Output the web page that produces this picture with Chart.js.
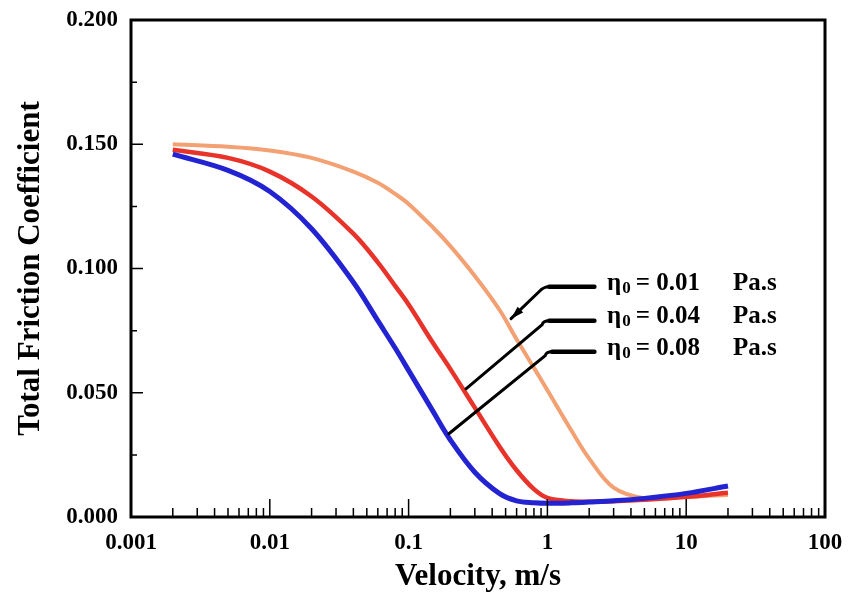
<!DOCTYPE html>
<html>
<head>
<meta charset="utf-8">
<script src="https://cdn.jsdelivr.net/npm/chart.js@4.4.1/dist/chart.umd.min.js"></script>
<style>
  html, body { margin: 0; padding: 0; background: #fff; }
  canvas { display: block; }
</style>
</head>
<body>
<canvas id="chart" width="848" height="604"></canvas>
<script>
const velocity = [0.002, 0.005, 0.01, 0.02, 0.04, 0.06, 0.08, 0.1, 0.15, 0.2, 0.3, 0.45, 0.6, 0.8, 1, 1.5, 2, 3, 5, 10, 20];
const friction001 = [0.1500, 0.1490, 0.1475, 0.1445, 0.1390, 0.1345, 0.1300, 0.1260, 0.1165, 0.1090, 0.0970, 0.0835, 0.0715, 0.0600, 0.0510, 0.0345, 0.0235, 0.0118, 0.0076, 0.0080, 0.0090];
const friction004 = [0.1478, 0.1445, 0.1390, 0.1290, 0.1140, 0.1025, 0.0930, 0.0855, 0.0700, 0.0595, 0.0440, 0.0285, 0.0188, 0.0112, 0.0077, 0.0063, 0.0061, 0.0063, 0.0069, 0.0081, 0.0098];
const friction008 = [0.1460, 0.1395, 0.1310, 0.1160, 0.0945, 0.0790, 0.0680, 0.0590, 0.0425, 0.0310, 0.0180, 0.0095, 0.0065, 0.0057, 0.0055, 0.0057, 0.0060, 0.0065, 0.0075, 0.0095, 0.0125];

const viscosityLabels = ['0.01', '0.04', '0.08'];
const xTickValues = [0.001, 0.01, 0.1, 1, 10, 100];
const xTickLabels = ['0.001', '0.01', '0.1', '1', '10', '100'];
const yTickValues = [0, 0.05, 0.1, 0.15, 0.2];
const yTickLabels = ['0.000', '0.050', '0.100', '0.150', '0.200'];

// leader lines of the η0 notes, in data units [velocity, friction]
const leader001 = [[2.18, 0.0927], [1.03, 0.0927], [0.873, 0.0907], [0.547, 0.0798]];
const leader004 = [[2.18, 0.0790], [1.03, 0.0790], [0.917, 0.0774], [0.259, 0.0516]];
const leader008 = [[2.18, 0.0665], [1.08, 0.0665], [0.964, 0.0649], [0.195, 0.0335]];
const labelVelocity = 2.69;   // η0 text starts here
const unitVelocity = 21.7;    // "Pa.s" starts here
const labelFriction = [0.094, 0.0806, 0.0677];

const serif = '"Liberation Serif", "Times New Roman", serif';

function points(values) {
  return velocity.map((v, i) => ({ x: v, y: values[i] }));
}

// box, inward ticks
const frame = {
  id: 'frame',
  afterDatasetsDraw(chart) {
    const { ctx, chartArea: a, scales: { x, y } } = chart;
    ctx.save();
    ctx.strokeStyle = '#000';
    ctx.lineWidth = 1.5;
    ctx.beginPath();
    yTickValues.forEach((v, i) => {
      const py = y.getPixelForValue(v);
      ctx.moveTo(a.left, py); ctx.lineTo(a.left + 12, py);
      if (i < yTickValues.length - 1) {
        const pm = y.getPixelForValue((v + yTickValues[i + 1]) / 2);
        ctx.moveTo(a.left, pm); ctx.lineTo(a.left + 6, pm);
      }
    });
    xTickValues.forEach((d, i) => {
      const px = x.getPixelForValue(d);
      ctx.moveTo(px, a.bottom); ctx.lineTo(px, a.bottom - 18);
      if (i < xTickValues.length - 1) {
        for (let k = 2; k < 10; k++) {
          const pm = x.getPixelForValue(d * k);
          ctx.moveTo(pm, a.bottom); ctx.lineTo(pm, a.bottom - 9);
        }
      }
    });
    ctx.stroke();
    ctx.lineWidth = 3;
    ctx.strokeRect(a.left, a.top, a.right - a.left, a.bottom - a.top);
    ctx.restore();
  }
};

// η0 notes with leader lines
const notes = {
  id: 'notes',
  afterDatasetsDraw(chart) {
    const { ctx, scales: { x, y } } = chart;
    const leaders = [leader001, leader004, leader008];
    ctx.save();
    ctx.strokeStyle = '#000';
    ctx.fillStyle = '#000';
    ctx.lineCap = 'round';
    leaders.forEach((pts, n) => {
      const p = pts.map(q => [x.getPixelForValue(q[0]), y.getPixelForValue(q[1])]);
      ctx.lineWidth = 4.5;
      ctx.beginPath();
      ctx.moveTo(p[0][0], p[0][1]); ctx.lineTo(p[1][0], p[1][1]);
      ctx.stroke();
      ctx.lineWidth = 3;
      ctx.beginPath();
      ctx.moveTo(p[1][0], p[1][1]);
      ctx.quadraticCurveTo(p[1][0] - 6, p[1][1], p[2][0], p[2][1]);
      ctx.lineTo(p[3][0], p[3][1]);
      ctx.stroke();
      if (n === 0) {
        const ang = Math.atan2(p[3][1] - p[2][1], p[3][0] - p[2][0]);
        const tip = p[3];
        ctx.beginPath();
        ctx.moveTo(tip[0], tip[1]);
        ctx.lineTo(tip[0] - 13 * Math.cos(ang) + 4 * Math.sin(ang), tip[1] - 13 * Math.sin(ang) - 4 * Math.cos(ang));
        ctx.lineTo(tip[0] - 13 * Math.cos(ang) - 4 * Math.sin(ang), tip[1] - 13 * Math.sin(ang) + 4 * Math.cos(ang));
        ctx.closePath();
        ctx.fill();
      }

      const tx = x.getPixelForValue(labelVelocity);
      const ty = y.getPixelForValue(labelFriction[n]);
      ctx.textBaseline = 'middle';
      ctx.textAlign = 'left';
      ctx.font = 'bold 25px ' + serif;
      ctx.fillText('η', tx, ty);
      let cx = tx + ctx.measureText('η').width + 1;
      ctx.font = 'bold 17px ' + serif;
      ctx.fillText('0', cx, ty + 5);
      cx += ctx.measureText('0').width + 5;
      ctx.font = 'bold 25px ' + serif;
      ctx.fillText('= ' + viscosityLabels[n], cx, ty);
      ctx.fillText('Pa.s', x.getPixelForValue(unitVelocity), ty);
    });
    ctx.restore();
  }
};

new Chart(document.getElementById('chart'), {
  type: 'line',
  data: {
    datasets: [
      { label: 'η0 = 0.01 Pa.s', data: points(friction001), borderColor: '#f3a073', borderWidth: 4, order: 2 },
      { label: 'η0 = 0.04 Pa.s', data: points(friction004), borderColor: '#e8332b', borderWidth: 4.5, order: 1 },
      { label: 'η0 = 0.08 Pa.s', data: points(friction008), borderColor: '#2323d2', borderWidth: 5, order: 0 }
    ]
  },
  options: {
    responsive: false,
    animation: false,
    datasets: { line: { pointRadius: 0, fill: false, tension: 0.35 } },
    layout: { padding: { top: 20, right: 23, left: 0, bottom: 8 } },
    plugins: { legend: { display: false }, tooltip: { enabled: false } },
    scales: {
      x: {
        type: 'logarithmic',
        min: 0.001,
        max: 100,
        grid: { display: false, drawTicks: false },
        border: { display: false },
        afterBuildTicks(s) { s.ticks = xTickValues.map(v => ({ value: v })); },
        afterFit(s) { s.height = 79; s.paddingLeft = 0; s.paddingRight = 0; },
        ticks: {
          autoSkip: false,
          maxRotation: 0,
          padding: 12,
          color: '#000',
          font: { family: serif, size: 23, weight: 'bold' },
          callback: (v) => xTickLabels[xTickValues.indexOf(v)]
        },
        title: {
          display: true,
          text: 'Velocity, m/s',
          color: '#000',
          font: { family: serif, size: 31, weight: 'bold' },
          padding: { top: 0, bottom: 0 }
        }
      },
      y: {
        min: 0,
        max: 0.2,
        grid: { display: false, drawTicks: false },
        border: { display: false },
        afterBuildTicks(s) { s.ticks = yTickValues.map(v => ({ value: v })); },
        afterFit(s) { s.width = 131; s.paddingTop = 0; s.paddingBottom = 0; },
        ticks: {
          padding: 13,
          color: '#000',
          font: { family: serif, size: 23, weight: 'bold' },
          callback: (v) => yTickLabels[yTickValues.indexOf(v)]
        },
        title: {
          display: true,
          text: 'Total Friction Coefficient',
          color: '#000',
          font: { family: serif, size: 31, weight: 'bold' },
          padding: { top: 12, bottom: 0 }
        }
      }
    }
  },
  plugins: [frame, notes]
});
</script>
</body>
</html>
